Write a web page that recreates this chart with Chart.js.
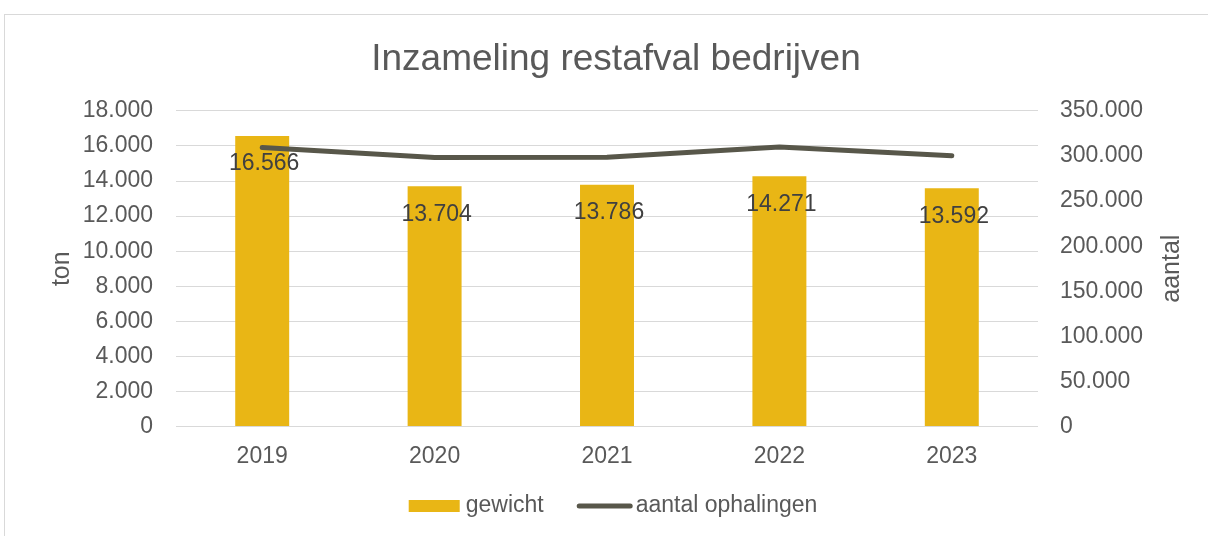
<!DOCTYPE html>
<html>
<head>
<meta charset="utf-8">
<script src="https://cdn.jsdelivr.net/npm/chart.js@4"></script>
<style>
  html, body { margin: 0; padding: 0; background: #fff; overflow: hidden; }
  #wrap { position: relative; width: 1208px; height: 536px; }
  #frame { position: absolute; left: 4px; top: 14px; width: 1240px; height: 600px; border: 1px solid #d9d9d9; }
  canvas { position: absolute; left: 0; top: 0; }
</style>
</head>
<body>
<div id="wrap">
  <div id="frame"></div>
  <canvas id="chart" width="1208" height="536"></canvas>
</div>
<script>
// data
const jaren = ['2019', '2020', '2021', '2022', '2023'];
const gewicht = [16566, 13704, 13786, 14271, 13592];
const ophalingen = [309500, 298400, 298600, 310000, 300200];

const kleurBar = '#e9b615';
const kleurLijn = '#58574a';
const kleurTekst = '#595959';
const lettertype = '"Liberation Sans", Arial, sans-serif';

// 16566 -> 16.566
function fmt(v) {
    return String(Math.round(v)).replace(/\B(?=(\d{3})+(?!\d))/g, '.');
}

Chart.defaults.font.family = lettertype;
Chart.defaults.color = kleurTekst;

// waarden in de balken
const barLabels = {
    id: 'barLabels',
    afterDatasetsDraw(chart) {
        const ctx = chart.ctx;
        const meta = chart.getDatasetMeta(0);
        ctx.save();
        ctx.font = '23px ' + lettertype;
        ctx.fillStyle = '#404040';
        ctx.textAlign = 'center';
        ctx.textBaseline = 'middle';
        meta.data.forEach(function (bar, i) {
            ctx.fillText(fmt(gewicht[i]), bar.x + 2, bar.y + 28);
        });
        ctx.restore();
    }
};

// titel rechter as (van onder naar boven) + legenda zoals in Excel
const extras = {
    id: 'extras',
    afterDraw(chart) {
        const ctx = chart.ctx;
        const area = chart.chartArea;
        ctx.save();
        ctx.translate(1172, (area.top + area.bottom) / 2);
        ctx.rotate(-Math.PI / 2);
        ctx.font = '25px ' + lettertype;
        ctx.fillStyle = kleurTekst;
        ctx.textAlign = 'center';
        ctx.textBaseline = 'middle';
        ctx.fillText('aantal', 0, 0);
        ctx.restore();

        // legenda
        const sets = chart.data.datasets;
        ctx.save();
        ctx.font = '23px ' + lettertype;
        const w0 = ctx.measureText(sets[0].label).width;
        const w1 = ctx.measureText(sets[1].label).width;
        const totaal = 51 + 6 + w0 + 33 + 56 + 3 + w1;
        let x = 613 - totaal / 2;
        const y = 506;
        ctx.fillStyle = sets[0].backgroundColor;
        ctx.fillRect(x, y - 6, 51, 12);
        x += 51 + 6;
        ctx.fillStyle = kleurTekst;
        ctx.textBaseline = 'middle';
        ctx.textAlign = 'left';
        ctx.fillText(sets[0].label, x, y);
        x += w0 + 33;
        ctx.strokeStyle = sets[1].borderColor;
        ctx.lineWidth = 5;
        ctx.lineCap = 'round';
        ctx.beginPath();
        ctx.moveTo(x + 2.5, y);
        ctx.lineTo(x + 53.5, y);
        ctx.stroke();
        x += 56 + 3;
        ctx.fillText(sets[1].label, x, y);
        ctx.restore();
    }
};

const ctx1 = document.getElementById('chart').getContext('2d');
const myChart = new Chart(ctx1, {
    type: 'bar',
    data: {
        labels: jaren,
        datasets: [{
            label: 'gewicht',
            data: gewicht,
            backgroundColor: kleurBar,
            borderWidth: 0,
            barPercentage: 0.313,
            categoryPercentage: 1,
            yAxisID: 'y',
            order: 1
        }, {
            type: 'line',
            label: 'aantal ophalingen',
            data: ophalingen,
            borderColor: kleurLijn,
            backgroundColor: kleurLijn,
            borderWidth: 5,
            borderCapStyle: 'round',
            borderJoinStyle: 'round',
            pointRadius: 0,
            tension: 0,
            yAxisID: 'y1',
            order: 0
        }]
    },
    options: {
        responsive: false,
        animation: false,
        layout: { padding: { left: 40, right: 16, top: 0, bottom: 51.5 } },
        plugins: {
            tooltip: { enabled: false },
            legend: { display: false },
            title: {
                display: true,
                text: 'Inzameling restafval bedrijven',
                color: kleurTekst,
                font: { size: 37, weight: 'normal' },
                padding: { top: 38, bottom: 28.5 }
            }
        },
        scales: {
            x: {
                grid: { display: false },
                border: { display: false },
                ticks: { color: kleurTekst, font: { size: 23 }, padding: 8 },
                afterFit: function (scale) { scale.height = 58; }
            },
            y: {
                position: 'left',
                min: 0,
                max: 18000,
                grid: { color: '#d9d9d9', lineWidth: 1, drawTicks: false },
                border: { display: false },
                ticks: {
                    stepSize: 2000,
                    color: kleurTekst,
                    font: { size: 23 },
                    padding: 23,
                    callback: function (v) { return fmt(v); }
                },
                title: {
                    display: true,
                    text: 'ton',
                    color: kleurTekst,
                    font: { size: 25 },
                    padding: { top: 7, bottom: 0 }
                },
                afterFit: function (scale) { scale.width = 136; }
            },
            y1: {
                position: 'right',
                min: 0,
                max: 350000,
                grid: { display: false, drawTicks: false },
                border: { display: false },
                ticks: {
                    stepSize: 50000,
                    color: kleurTekst,
                    font: { size: 23 },
                    padding: 22,
                    callback: function (v) { return fmt(v); }
                },
                afterFit: function (scale) { scale.width = 154; }
            }
        }
    },
    plugins: [barLabels, extras]
});
</script>
</body>
</html>
